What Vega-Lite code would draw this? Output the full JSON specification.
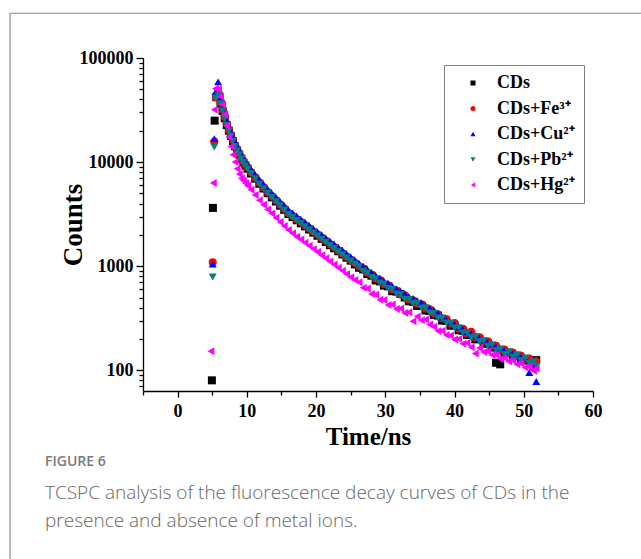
{
  "$schema": "https://vega.github.io/schema/vega-lite/v6.json",
  "width": 450,
  "height": 333,
  "autosize": {"type": "none"},
  "padding": {"left": 143, "top": 58, "right": 48, "bottom": 168},
  "background": "white",
  "title": {
    "text": "FIGURE 6",
    "subtitle": ["TCSPC analysis of the fluorescence decay curves of CDs in the", "presence and absence of metal ions."],
    "orient": "bottom",
    "anchor": "start",
    "frame": "group",
    "dx": -98,
    "offset": -124,
    "font": "Open Sans",
    "fontSize": 14,
    "fontWeight": 600,
    "color": "#7a7a7a",
    "subtitleFont": "Open Sans",
    "subtitleFontSize": 19,
    "subtitleFontWeight": 300,
    "subtitleColor": "#666666",
    "subtitleLineHeight": 28,
    "subtitlePadding": 15
  },
  "datasets": {
    "decay": [
      {"s":"CDs","t":4.95,"c":80},{"s":"CDs","t":5.1,"c":3630},{"s":"CDs","t":5.35,"c":25000},{"s":"CDs","t":5.6,"c":42000},
      {"s":"CDs","t":5.9,"c":44000},{"s":"CDs","t":6.2,"c":36500},{"s":"CDs","t":6.5,"c":31000},{"s":"CDs","t":6.8,"c":26400},{"s":"CDs","t":7.1,"c":22700},{"s":"CDs","t":7.4,"c":20000},{"s":"CDs","t":7.7,"c":17800},{"s":"CDs","t":8.0,"c":15900},{"s":"CDs","t":8.3,"c":14150},{"s":"CDs","t":8.6,"c":12900},{"s":"CDs","t":8.9,"c":11800},{"s":"CDs","t":9.2,"c":10750},{"s":"CDs","t":9.5,"c":9900},{"s":"CDs","t":9.8,"c":9250},{"s":"CDs","t":10.1,"c":8630},
      {"s":"CDs","t":10.6,"c":7780},{"s":"CDs","t":11.2,"c":6940},{"s":"CDs","t":11.8,"c":6190},{"s":"CDs","t":12.4,"c":5570},{"s":"CDs","t":13.0,"c":5020},{"s":"CDs","t":13.6,"c":4580},{"s":"CDs","t":14.2,"c":4180},{"s":"CDs","t":14.8,"c":3810},{"s":"CDs","t":15.4,"c":3480},{"s":"CDs","t":16.0,"c":3170},{"s":"CDs","t":16.6,"c":2960},{"s":"CDs","t":17.2,"c":2760},{"s":"CDs","t":17.8,"c":2580},{"s":"CDs","t":18.4,"c":2410},{"s":"CDs","t":19.0,"c":2250},{"s":"CDs","t":19.6,"c":2100},{"s":"CDs","t":20.2,"c":1960},{"s":"CDs","t":20.8,"c":1830},{"s":"CDs","t":21.4,"c":1705},{"s":"CDs","t":22.0,"c":1590},{"s":"CDs","t":22.6,"c":1485},{"s":"CDs","t":23.2,"c":1390},{"s":"CDs","t":23.8,"c":1295},{"s":"CDs","t":24.4,"c":1205},{"s":"CDs","t":25.0,"c":1130},{"s":"CDs","t":25.6,"c":1040},{"s":"CDs","t":26.2,"c":965},{"s":"CDs","t":26.8,"c":930},{"s":"CDs","t":27.4,"c":840},{"s":"CDs","t":28.0,"c":810},{"s":"CDs","t":28.6,"c":730},{"s":"CDs","t":29.2,"c":715},{"s":"CDs","t":29.8,"c":650},{"s":"CDs","t":30.4,"c":640},{"s":"CDs","t":31.0,"c":575},{"s":"CDs","t":31.6,"c":570},{"s":"CDs","t":32.2,"c":540},{"s":"CDs","t":32.8,"c":500},{"s":"CDs","t":33.4,"c":460},{"s":"CDs","t":34.0,"c":455},{"s":"CDs","t":34.6,"c":415},{"s":"CDs","t":35.2,"c":420},{"s":"CDs","t":35.8,"c":375},{"s":"CDs","t":36.4,"c":372},{"s":"CDs","t":37.0,"c":340},{"s":"CDs","t":37.6,"c":335},{"s":"CDs","t":38.2,"c":300},{"s":"CDs","t":38.8,"c":300},{"s":"CDs","t":39.4,"c":268},{"s":"CDs","t":40.0,"c":270},{"s":"CDs","t":40.6,"c":242},{"s":"CDs","t":41.2,"c":240},{"s":"CDs","t":41.8,"c":218},{"s":"CDs","t":42.4,"c":220},{"s":"CDs","t":43.0,"c":198},{"s":"CDs","t":43.6,"c":200},{"s":"CDs","t":44.2,"c":180},{"s":"CDs","t":44.8,"c":182},{"s":"CDs","t":45.4,"c":165},{"s":"CDs","t":46.0,"c":118},{"s":"CDs","t":46.6,"c":114},{"s":"CDs","t":47.2,"c":146},{"s":"CDs","t":47.8,"c":148},{"s":"CDs","t":48.4,"c":136},{"s":"CDs","t":49.0,"c":138},{"s":"CDs","t":49.6,"c":127},{"s":"CDs","t":50.2,"c":124},{"s":"CDs","t":50.8,"c":125},{"s":"CDs","t":51.4,"c":112},{"s":"CDs","t":51.8,"c":125},

      {"s":"CDs+Fe³⁺","t":5.07,"c":1090},{"s":"CDs+Fe³⁺","t":5.3,"c":15800},{"s":"CDs+Fe³⁺","t":5.55,"c":42000},
      {"s":"CDs+Fe³⁺","t":5.9,"c":46000},{"s":"CDs+Fe³⁺","t":6.2,"c":37400},{"s":"CDs+Fe³⁺","t":6.5,"c":31800},{"s":"CDs+Fe³⁺","t":6.8,"c":27100},{"s":"CDs+Fe³⁺","t":7.1,"c":23300},{"s":"CDs+Fe³⁺","t":7.4,"c":20500},{"s":"CDs+Fe³⁺","t":7.7,"c":18300},{"s":"CDs+Fe³⁺","t":8.0,"c":16300},{"s":"CDs+Fe³⁺","t":8.3,"c":14550},{"s":"CDs+Fe³⁺","t":8.6,"c":13270},{"s":"CDs+Fe³⁺","t":8.9,"c":12100},{"s":"CDs+Fe³⁺","t":9.2,"c":11040},{"s":"CDs+Fe³⁺","t":9.5,"c":10190},{"s":"CDs+Fe³⁺","t":9.8,"c":9510},{"s":"CDs+Fe³⁺","t":10.1,"c":8870},
      {"s":"CDs+Fe³⁺","t":10.6,"c":7990},{"s":"CDs+Fe³⁺","t":11.2,"c":7130},{"s":"CDs+Fe³⁺","t":11.8,"c":6360},{"s":"CDs+Fe³⁺","t":12.4,"c":5730},{"s":"CDs+Fe³⁺","t":13.0,"c":5160},{"s":"CDs+Fe³⁺","t":13.6,"c":4710},{"s":"CDs+Fe³⁺","t":14.2,"c":4300},{"s":"CDs+Fe³⁺","t":14.8,"c":3910},{"s":"CDs+Fe³⁺","t":15.4,"c":3570},{"s":"CDs+Fe³⁺","t":16.0,"c":3250},{"s":"CDs+Fe³⁺","t":16.6,"c":3040},{"s":"CDs+Fe³⁺","t":17.2,"c":2830},{"s":"CDs+Fe³⁺","t":17.8,"c":2650},{"s":"CDs+Fe³⁺","t":18.4,"c":2470},{"s":"CDs+Fe³⁺","t":19.0,"c":2310},{"s":"CDs+Fe³⁺","t":19.6,"c":2150},{"s":"CDs+Fe³⁺","t":20.2,"c":2010},{"s":"CDs+Fe³⁺","t":20.8,"c":1875},{"s":"CDs+Fe³⁺","t":21.4,"c":1750},{"s":"CDs+Fe³⁺","t":22.0,"c":1630},{"s":"CDs+Fe³⁺","t":22.6,"c":1525},{"s":"CDs+Fe³⁺","t":23.2,"c":1420},{"s":"CDs+Fe³⁺","t":23.8,"c":1330},{"s":"CDs+Fe³⁺","t":24.4,"c":1235},{"s":"CDs+Fe³⁺","t":25.0,"c":1150},{"s":"CDs+Fe³⁺","t":25.6,"c":1080},{"s":"CDs+Fe³⁺","t":26.2,"c":1000},{"s":"CDs+Fe³⁺","t":26.8,"c":950},{"s":"CDs+Fe³⁺","t":27.4,"c":870},{"s":"CDs+Fe³⁺","t":28.0,"c":830},{"s":"CDs+Fe³⁺","t":28.6,"c":760},{"s":"CDs+Fe³⁺","t":29.2,"c":735},{"s":"CDs+Fe³⁺","t":29.8,"c":670},{"s":"CDs+Fe³⁺","t":30.4,"c":655},{"s":"CDs+Fe³⁺","t":31.0,"c":600},{"s":"CDs+Fe³⁺","t":31.6,"c":585},{"s":"CDs+Fe³⁺","t":32.2,"c":535},{"s":"CDs+Fe³⁺","t":32.8,"c":525},{"s":"CDs+Fe³⁺","t":33.4,"c":478},{"s":"CDs+Fe³⁺","t":34.0,"c":470},{"s":"CDs+Fe³⁺","t":34.6,"c":435},{"s":"CDs+Fe³⁺","t":35.2,"c":430},{"s":"CDs+Fe³⁺","t":35.8,"c":392},{"s":"CDs+Fe³⁺","t":36.4,"c":385},{"s":"CDs+Fe³⁺","t":37.0,"c":352},{"s":"CDs+Fe³⁺","t":37.6,"c":345},{"s":"CDs+Fe³⁺","t":38.2,"c":315},{"s":"CDs+Fe³⁺","t":38.8,"c":310},{"s":"CDs+Fe³⁺","t":39.4,"c":280},{"s":"CDs+Fe³⁺","t":40.0,"c":285},{"s":"CDs+Fe³⁺","t":40.6,"c":250},{"s":"CDs+Fe³⁺","t":41.2,"c":250},{"s":"CDs+Fe³⁺","t":41.8,"c":226},{"s":"CDs+Fe³⁺","t":42.4,"c":234},{"s":"CDs+Fe³⁺","t":43.0,"c":206},{"s":"CDs+Fe³⁺","t":43.6,"c":208},{"s":"CDs+Fe³⁺","t":44.2,"c":188},{"s":"CDs+Fe³⁺","t":44.8,"c":190},{"s":"CDs+Fe³⁺","t":45.4,"c":172},{"s":"CDs+Fe³⁺","t":46.0,"c":172},{"s":"CDs+Fe³⁺","t":46.6,"c":156},{"s":"CDs+Fe³⁺","t":47.2,"c":158},{"s":"CDs+Fe³⁺","t":47.8,"c":146},{"s":"CDs+Fe³⁺","t":48.4,"c":148},{"s":"CDs+Fe³⁺","t":49.0,"c":136},{"s":"CDs+Fe³⁺","t":49.6,"c":138},{"s":"CDs+Fe³⁺","t":50.2,"c":127},{"s":"CDs+Fe³⁺","t":50.8,"c":130},{"s":"CDs+Fe³⁺","t":51.4,"c":118},{"s":"CDs+Fe³⁺","t":51.8,"c":122},

      {"s":"CDs+Cu²⁺","t":5.07,"c":1050},{"s":"CDs+Cu²⁺","t":5.3,"c":16800},{"s":"CDs+Cu²⁺","t":5.5,"c":47400},{"s":"CDs+Cu²⁺","t":5.85,"c":59000},
      {"s":"CDs+Cu²⁺","t":6.2,"c":41000},{"s":"CDs+Cu²⁺","t":6.5,"c":34000},{"s":"CDs+Cu²⁺","t":6.8,"c":28900},{"s":"CDs+Cu²⁺","t":7.1,"c":24900},{"s":"CDs+Cu²⁺","t":7.4,"c":21950},{"s":"CDs+Cu²⁺","t":7.7,"c":19560},{"s":"CDs+Cu²⁺","t":8.0,"c":17440},{"s":"CDs+Cu²⁺","t":8.3,"c":15540},{"s":"CDs+Cu²⁺","t":8.6,"c":14170},{"s":"CDs+Cu²⁺","t":8.9,"c":12930},{"s":"CDs+Cu²⁺","t":9.2,"c":11790},{"s":"CDs+Cu²⁺","t":9.5,"c":10880},{"s":"CDs+Cu²⁺","t":9.8,"c":10150},{"s":"CDs+Cu²⁺","t":10.1,"c":9470},
      {"s":"CDs+Cu²⁺","t":10.6,"c":8540},{"s":"CDs+Cu²⁺","t":11.2,"c":7610},{"s":"CDs+Cu²⁺","t":11.8,"c":6790},{"s":"CDs+Cu²⁺","t":12.4,"c":6120},{"s":"CDs+Cu²⁺","t":13.0,"c":5510},{"s":"CDs+Cu²⁺","t":13.6,"c":5030},{"s":"CDs+Cu²⁺","t":14.2,"c":4590},{"s":"CDs+Cu²⁺","t":14.8,"c":4180},{"s":"CDs+Cu²⁺","t":15.4,"c":3820},{"s":"CDs+Cu²⁺","t":16.0,"c":3480},{"s":"CDs+Cu²⁺","t":16.6,"c":3250},{"s":"CDs+Cu²⁺","t":17.2,"c":3030},{"s":"CDs+Cu²⁺","t":17.8,"c":2830},{"s":"CDs+Cu²⁺","t":18.4,"c":2640},{"s":"CDs+Cu²⁺","t":19.0,"c":2460},{"s":"CDs+Cu²⁺","t":19.6,"c":2300},{"s":"CDs+Cu²⁺","t":20.2,"c":2145},{"s":"CDs+Cu²⁺","t":20.8,"c":2000},{"s":"CDs+Cu²⁺","t":21.4,"c":1870},{"s":"CDs+Cu²⁺","t":22.0,"c":1745},{"s":"CDs+Cu²⁺","t":22.6,"c":1630},{"s":"CDs+Cu²⁺","t":23.2,"c":1520},{"s":"CDs+Cu²⁺","t":23.8,"c":1420},{"s":"CDs+Cu²⁺","t":24.4,"c":1320},{"s":"CDs+Cu²⁺","t":25.0,"c":1230},{"s":"CDs+Cu²⁺","t":25.6,"c":1150},{"s":"CDs+Cu²⁺","t":26.2,"c":1070},{"s":"CDs+Cu²⁺","t":26.8,"c":1000},{"s":"CDs+Cu²⁺","t":27.4,"c":935},{"s":"CDs+Cu²⁺","t":28.0,"c":870},{"s":"CDs+Cu²⁺","t":28.6,"c":815},{"s":"CDs+Cu²⁺","t":29.2,"c":770},{"s":"CDs+Cu²⁺","t":29.8,"c":720},{"s":"CDs+Cu²⁺","t":30.4,"c":685},{"s":"CDs+Cu²⁺","t":31.0,"c":645},{"s":"CDs+Cu²⁺","t":31.6,"c":605},{"s":"CDs+Cu²⁺","t":32.2,"c":575},{"s":"CDs+Cu²⁺","t":32.8,"c":540},{"s":"CDs+Cu²⁺","t":33.4,"c":510},{"s":"CDs+Cu²⁺","t":34.0,"c":490},{"s":"CDs+Cu²⁺","t":34.6,"c":465},{"s":"CDs+Cu²⁺","t":35.2,"c":445},{"s":"CDs+Cu²⁺","t":35.8,"c":420},{"s":"CDs+Cu²⁺","t":36.4,"c":395},{"s":"CDs+Cu²⁺","t":37.0,"c":380},{"s":"CDs+Cu²⁺","t":37.6,"c":355},{"s":"CDs+Cu²⁺","t":38.2,"c":325},{"s":"CDs+Cu²⁺","t":38.8,"c":305},{"s":"CDs+Cu²⁺","t":39.4,"c":290},{"s":"CDs+Cu²⁺","t":40.0,"c":275},{"s":"CDs+Cu²⁺","t":40.6,"c":262},{"s":"CDs+Cu²⁺","t":41.2,"c":246},{"s":"CDs+Cu²⁺","t":41.8,"c":236},{"s":"CDs+Cu²⁺","t":42.4,"c":224},{"s":"CDs+Cu²⁺","t":43.0,"c":214},{"s":"CDs+Cu²⁺","t":43.6,"c":204},{"s":"CDs+Cu²⁺","t":44.2,"c":195},{"s":"CDs+Cu²⁺","t":44.8,"c":186},{"s":"CDs+Cu²⁺","t":45.4,"c":178},{"s":"CDs+Cu²⁺","t":46.0,"c":168},{"s":"CDs+Cu²⁺","t":46.6,"c":162},{"s":"CDs+Cu²⁺","t":47.2,"c":155},{"s":"CDs+Cu²⁺","t":47.8,"c":150},{"s":"CDs+Cu²⁺","t":48.4,"c":144},{"s":"CDs+Cu²⁺","t":49.0,"c":139},{"s":"CDs+Cu²⁺","t":49.6,"c":133},{"s":"CDs+Cu²⁺","t":50.2,"c":128},{"s":"CDs+Cu²⁺","t":50.8,"c":95},{"s":"CDs+Cu²⁺","t":51.4,"c":108},{"s":"CDs+Cu²⁺","t":51.8,"c":78},

      {"s":"CDs+Pb²⁺","t":5.07,"c":787},{"s":"CDs+Pb²⁺","t":5.3,"c":13960},{"s":"CDs+Pb²⁺","t":5.45,"c":41300},
      {"s":"CDs+Pb²⁺","t":5.9,"c":43650},{"s":"CDs+Pb²⁺","t":6.2,"c":36310},{"s":"CDs+Pb²⁺","t":6.5,"c":30900},{"s":"CDs+Pb²⁺","t":6.8,"c":26300},{"s":"CDs+Pb²⁺","t":7.1,"c":22650},{"s":"CDs+Pb²⁺","t":7.4,"c":19950},{"s":"CDs+Pb²⁺","t":7.7,"c":17780},{"s":"CDs+Pb²⁺","t":8.0,"c":15850},{"s":"CDs+Pb²⁺","t":8.3,"c":14130},{"s":"CDs+Pb²⁺","t":8.6,"c":12880},{"s":"CDs+Pb²⁺","t":8.9,"c":11750},{"s":"CDs+Pb²⁺","t":9.2,"c":10720},{"s":"CDs+Pb²⁺","t":9.5,"c":9890},{"s":"CDs+Pb²⁺","t":9.8,"c":9230},{"s":"CDs+Pb²⁺","t":10.1,"c":8610},
      {"s":"CDs+Pb²⁺","t":10.6,"c":7760},{"s":"CDs+Pb²⁺","t":11.2,"c":6920},{"s":"CDs+Pb²⁺","t":11.8,"c":6170},{"s":"CDs+Pb²⁺","t":12.4,"c":5560},{"s":"CDs+Pb²⁺","t":13.0,"c":5010},{"s":"CDs+Pb²⁺","t":13.6,"c":4570},{"s":"CDs+Pb²⁺","t":14.2,"c":4170},{"s":"CDs+Pb²⁺","t":14.8,"c":3800},{"s":"CDs+Pb²⁺","t":15.4,"c":3470},{"s":"CDs+Pb²⁺","t":16.0,"c":3160},{"s":"CDs+Pb²⁺","t":16.6,"c":2950},{"s":"CDs+Pb²⁺","t":17.2,"c":2750},{"s":"CDs+Pb²⁺","t":17.8,"c":2570},{"s":"CDs+Pb²⁺","t":18.4,"c":2400},{"s":"CDs+Pb²⁺","t":19.0,"c":2240},{"s":"CDs+Pb²⁺","t":19.6,"c":2090},{"s":"CDs+Pb²⁺","t":20.2,"c":1950},{"s":"CDs+Pb²⁺","t":20.8,"c":1820},{"s":"CDs+Pb²⁺","t":21.4,"c":1700},{"s":"CDs+Pb²⁺","t":22.0,"c":1585},{"s":"CDs+Pb²⁺","t":22.6,"c":1480},{"s":"CDs+Pb²⁺","t":23.2,"c":1380},{"s":"CDs+Pb²⁺","t":23.8,"c":1290},{"s":"CDs+Pb²⁺","t":24.4,"c":1200},{"s":"CDs+Pb²⁺","t":25.0,"c":1120},{"s":"CDs+Pb²⁺","t":25.6,"c":1050},{"s":"CDs+Pb²⁺","t":26.2,"c":990},{"s":"CDs+Pb²⁺","t":26.8,"c":895},{"s":"CDs+Pb²⁺","t":27.4,"c":860},{"s":"CDs+Pb²⁺","t":28.0,"c":780},{"s":"CDs+Pb²⁺","t":28.6,"c":755},{"s":"CDs+Pb²⁺","t":29.2,"c":690},{"s":"CDs+Pb²⁺","t":29.8,"c":675},{"s":"CDs+Pb²⁺","t":30.4,"c":610},{"s":"CDs+Pb²⁺","t":31.0,"c":600},{"s":"CDs+Pb²⁺","t":31.6,"c":540},{"s":"CDs+Pb²⁺","t":32.2,"c":535},{"s":"CDs+Pb²⁺","t":32.8,"c":480},{"s":"CDs+Pb²⁺","t":33.4,"c":478},{"s":"CDs+Pb²⁺","t":34.0,"c":435},{"s":"CDs+Pb²⁺","t":34.6,"c":440},{"s":"CDs+Pb²⁺","t":35.2,"c":395},{"s":"CDs+Pb²⁺","t":35.8,"c":398},{"s":"CDs+Pb²⁺","t":36.4,"c":355},{"s":"CDs+Pb²⁺","t":37.0,"c":352},{"s":"CDs+Pb²⁺","t":37.6,"c":318},{"s":"CDs+Pb²⁺","t":38.2,"c":318},{"s":"CDs+Pb²⁺","t":38.8,"c":284},{"s":"CDs+Pb²⁺","t":39.4,"c":283},{"s":"CDs+Pb²⁺","t":40.0,"c":255},{"s":"CDs+Pb²⁺","t":40.6,"c":256},{"s":"CDs+Pb²⁺","t":41.2,"c":228},{"s":"CDs+Pb²⁺","t":41.8,"c":230},{"s":"CDs+Pb²⁺","t":42.4,"c":205},{"s":"CDs+Pb²⁺","t":43.0,"c":210},{"s":"CDs+Pb²⁺","t":43.6,"c":188},{"s":"CDs+Pb²⁺","t":44.2,"c":192},{"s":"CDs+Pb²⁺","t":44.8,"c":170},{"s":"CDs+Pb²⁺","t":45.4,"c":176},{"s":"CDs+Pb²⁺","t":46.0,"c":155},{"s":"CDs+Pb²⁺","t":46.6,"c":160},{"s":"CDs+Pb²⁺","t":47.2,"c":142},{"s":"CDs+Pb²⁺","t":47.8,"c":150},{"s":"CDs+Pb²⁺","t":48.4,"c":134},{"s":"CDs+Pb²⁺","t":49.0,"c":140},{"s":"CDs+Pb²⁺","t":49.6,"c":124},{"s":"CDs+Pb²⁺","t":50.2,"c":131},{"s":"CDs+Pb²⁺","t":50.8,"c":116},{"s":"CDs+Pb²⁺","t":51.4,"c":121},{"s":"CDs+Pb²⁺","t":51.8,"c":110},

      {"s":"CDs+Hg²⁺","t":4.8,"c":152},{"s":"CDs+Hg²⁺","t":5.15,"c":6300},{"s":"CDs+Hg²⁺","t":5.3,"c":31800},{"s":"CDs+Hg²⁺","t":5.45,"c":50700},
      {"s":"CDs+Hg²⁺","t":5.9,"c":50000},{"s":"CDs+Hg²⁺","t":6.2,"c":42660},{"s":"CDs+Hg²⁺","t":6.5,"c":35480},{"s":"CDs+Hg²⁺","t":6.8,"c":28840},{"s":"CDs+Hg²⁺","t":7.1,"c":22390},{"s":"CDs+Hg²⁺","t":7.4,"c":17380},{"s":"CDs+Hg²⁺","t":7.7,"c":14130},{"s":"CDs+Hg²⁺","t":8.0,"c":11750},{"s":"CDs+Hg²⁺","t":8.3,"c":10000},{"s":"CDs+Hg²⁺","t":8.6,"c":8610},{"s":"CDs+Hg²⁺","t":8.9,"c":7700},{"s":"CDs+Hg²⁺","t":9.2,"c":7000},{"s":"CDs+Hg²⁺","t":9.5,"c":6600},{"s":"CDs+Hg²⁺","t":9.8,"c":6250},{"s":"CDs+Hg²⁺","t":10.1,"c":5940},
      {"s":"CDs+Hg²⁺","t":10.6,"c":5430},{"s":"CDs+Hg²⁺","t":11.2,"c":4840},{"s":"CDs+Hg²⁺","t":11.8,"c":4310},{"s":"CDs+Hg²⁺","t":12.4,"c":3890},{"s":"CDs+Hg²⁺","t":13.0,"c":3510},{"s":"CDs+Hg²⁺","t":13.6,"c":3200},{"s":"CDs+Hg²⁺","t":14.2,"c":2920},{"s":"CDs+Hg²⁺","t":14.8,"c":2660},{"s":"CDs+Hg²⁺","t":15.4,"c":2430},{"s":"CDs+Hg²⁺","t":16.0,"c":2220},{"s":"CDs+Hg²⁺","t":16.6,"c":2070},{"s":"CDs+Hg²⁺","t":17.2,"c":1920},{"s":"CDs+Hg²⁺","t":17.8,"c":1800},{"s":"CDs+Hg²⁺","t":18.4,"c":1680},{"s":"CDs+Hg²⁺","t":19.0,"c":1570},{"s":"CDs+Hg²⁺","t":19.6,"c":1460},{"s":"CDs+Hg²⁺","t":20.2,"c":1370},{"s":"CDs+Hg²⁺","t":20.8,"c":1270},{"s":"CDs+Hg²⁺","t":21.4,"c":1190},{"s":"CDs+Hg²⁺","t":22.0,"c":1110},{"s":"CDs+Hg²⁺","t":22.6,"c":1035},{"s":"CDs+Hg²⁺","t":23.2,"c":966},{"s":"CDs+Hg²⁺","t":23.8,"c":902},{"s":"CDs+Hg²⁺","t":24.4,"c":840},{"s":"CDs+Hg²⁺","t":25.0,"c":784},{"s":"CDs+Hg²⁺","t":25.6,"c":735},{"s":"CDs+Hg²⁺","t":26.2,"c":700},{"s":"CDs+Hg²⁺","t":26.8,"c":620},{"s":"CDs+Hg²⁺","t":27.4,"c":610},{"s":"CDs+Hg²⁺","t":28.0,"c":541},{"s":"CDs+Hg²⁺","t":28.6,"c":530},{"s":"CDs+Hg²⁺","t":29.2,"c":477},{"s":"CDs+Hg²⁺","t":29.8,"c":472},{"s":"CDs+Hg²⁺","t":30.4,"c":424},{"s":"CDs+Hg²⁺","t":31.0,"c":429},{"s":"CDs+Hg²⁺","t":31.6,"c":387},{"s":"CDs+Hg²⁺","t":32.2,"c":392},{"s":"CDs+Hg²⁺","t":32.8,"c":355},{"s":"CDs+Hg²⁺","t":33.4,"c":360},{"s":"CDs+Hg²⁺","t":34.0,"c":295},{"s":"CDs+Hg²⁺","t":34.6,"c":329},{"s":"CDs+Hg²⁺","t":35.2,"c":302},{"s":"CDs+Hg²⁺","t":35.8,"c":307},{"s":"CDs+Hg²⁺","t":36.4,"c":275},{"s":"CDs+Hg²⁺","t":37.0,"c":262},{"s":"CDs+Hg²⁺","t":37.6,"c":238},{"s":"CDs+Hg²⁺","t":38.2,"c":240},{"s":"CDs+Hg²⁺","t":38.8,"c":218},{"s":"CDs+Hg²⁺","t":39.4,"c":216},{"s":"CDs+Hg²⁺","t":40.0,"c":198},{"s":"CDs+Hg²⁺","t":40.6,"c":200},{"s":"CDs+Hg²⁺","t":41.2,"c":180},{"s":"CDs+Hg²⁺","t":41.8,"c":183},{"s":"CDs+Hg²⁺","t":42.4,"c":166},{"s":"CDs+Hg²⁺","t":43.0,"c":145},{"s":"CDs+Hg²⁺","t":43.6,"c":164},{"s":"CDs+Hg²⁺","t":44.2,"c":150},{"s":"CDs+Hg²⁺","t":44.8,"c":152},{"s":"CDs+Hg²⁺","t":45.4,"c":140},{"s":"CDs+Hg²⁺","t":46.0,"c":141},{"s":"CDs+Hg²⁺","t":46.6,"c":128},{"s":"CDs+Hg²⁺","t":47.2,"c":131},{"s":"CDs+Hg²⁺","t":47.8,"c":122},{"s":"CDs+Hg²⁺","t":48.4,"c":124},{"s":"CDs+Hg²⁺","t":49.0,"c":114},{"s":"CDs+Hg²⁺","t":49.6,"c":116},{"s":"CDs+Hg²⁺","t":50.2,"c":106},{"s":"CDs+Hg²⁺","t":50.8,"c":108},{"s":"CDs+Hg²⁺","t":51.4,"c":99},{"s":"CDs+Hg²⁺","t":51.8,"c":104}
    ]
  },
  "resolve": {"axis": {"x": "independent"}},
  "layer": [
    {
      "data": {"values": [{}]},
      "mark": {"type": "rect", "fillOpacity": 0, "stroke": "#8c8c8c", "strokeWidth": 1.2, "clip": false},
      "encoding": {
        "x": {
          "datum": -24.2, "type": "quantitative",
          "axis": {"orient": "bottom", "values": [-5, 5, 15, 25, 35, 45, 55], "labels": false, "domain": false, "title": null, "tickSize": 4}
        },
        "x2": {"datum": 75},
        "y": {"datum": 269000, "type": "quantitative"},
        "y2": {"datum": 1}
      }
    },
    {
      "data": {"name": "decay"},
      "mark": {"type": "point", "filled": true, "size": 64, "opacity": 1, "strokeWidth": 0},
      "encoding": {
        "x": {
          "field": "t", "type": "quantitative",
          "scale": {"domain": [-5, 60], "nice": false, "zero": false},
          "axis": {
            "orient": "bottom",
            "title": "Time/ns",
            "values": [0, 10, 20, 30, 40, 50, 60],
            "format": "d",
            "tickSize": 6,
            "labelPadding": 5,
            "labelOverlap": false,
            "labelFlush": false,
            "titleFontSize": 25,
            "titleX": 225,
            "titleY": 53,
            "titleBaseline": "alphabetic",
            "titleAlign": "center"
          }
        },
        "y": {
          "field": "c", "type": "quantitative",
          "scale": {"type": "log", "domain": [63.2, 100000], "nice": false, "zero": false},
          "axis": {
            "title": "Counts",
            "values": [70, 80, 90, 100, 200, 300, 400, 500, 600, 700, 800, 900, 1000, 2000, 3000, 4000, 5000, 6000, 7000, 8000, 9000, 10000, 20000, 30000, 40000, 50000, 60000, 70000, 80000, 90000, 100000],
            "format": "d",
            "labelExpr": "(datum.value == 100 || datum.value == 1000 || datum.value == 10000 || datum.value == 100000) ? datum.label : ''",
            "tickSize": {"condition": {"test": "datum.value == 100 || datum.value == 1000 || datum.value == 10000 || datum.value == 100000", "value": 7}, "value": 4},
            "labelPadding": 3,
            "labelOverlap": false,
            "labelFlush": false,
            "titleFontSize": 27,
            "titleX": -62,
            "titleY": 166.5,
            "titleAngle": -90,
            "titleBaseline": "alphabetic",
            "titleAlign": "center"
          }
        },
        "color": {
          "field": "s", "type": "nominal", "title": null,
          "scale": {"domain": ["CDs", "CDs+Fe³⁺", "CDs+Cu²⁺", "CDs+Pb²⁺", "CDs+Hg²⁺"], "range": ["#000000", "#ff0000", "#0000ff", "#008080", "#ff00ff"]},
          "legend": {"orient": "none", "legendX": 301, "legendY": 7, "title": null, "strokeColor": "#808080", "fillColor": "white", "padding": 9, "symbolOffset": 11, "labelOffset": 15, "rowPadding": 7.5, "labelFont": "Liberation Serif", "labelFontSize": 18, "labelFontWeight": "bold", "labelColor": "black", "symbolSize": 25, "symbolStrokeWidth": 0}
        },
        "shape": {
          "field": "s", "type": "nominal", "title": null,
          "scale": {"domain": ["CDs", "CDs+Fe³⁺", "CDs+Cu²⁺", "CDs+Pb²⁺", "CDs+Hg²⁺"], "range": ["square", "circle", "triangle-up", "triangle-down", "triangle-left"]},
          "legend": {"orient": "none", "legendX": 301, "legendY": 7, "title": null, "strokeColor": "#808080", "fillColor": "white", "padding": 9, "symbolOffset": 11, "labelOffset": 15, "rowPadding": 7.5, "labelFont": "Liberation Serif", "labelFontSize": 18, "labelFontWeight": "bold", "labelColor": "black", "symbolSize": 25, "symbolStrokeWidth": 0}
        }
      }
    }
  ],
  "config": {
    "view": {"stroke": null},
    "axis": {
      "grid": false,
      "domainColor": "black",
      "domainWidth": 1.3,
      "tickColor": "black",
      "tickWidth": 1.3,
      "labelColor": "black",
      "titleColor": "black",
      "labelFont": "Liberation Serif",
      "titleFont": "Liberation Serif",
      "labelFontWeight": "bold",
      "titleFontWeight": "bold",
      "labelFontSize": 18
    }
  }
}
